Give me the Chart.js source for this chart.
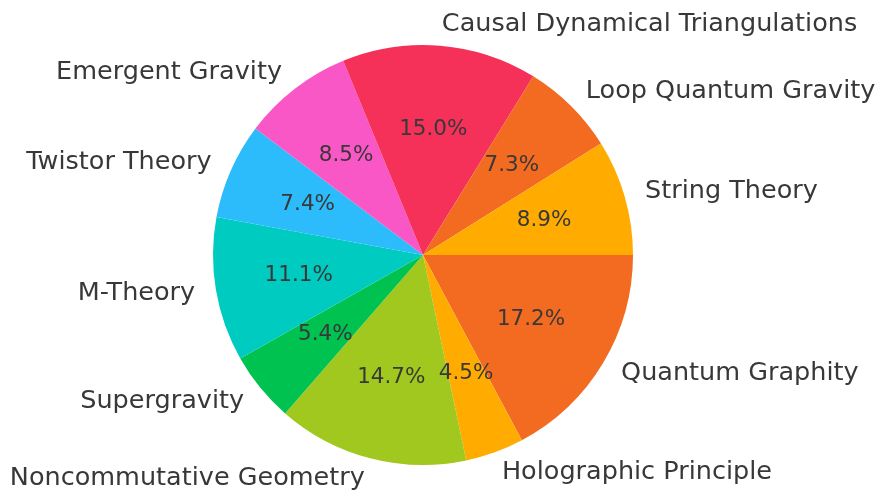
<!DOCTYPE html>
<html>
<head>
<meta charset="utf-8">
<script src="https://cdn.jsdelivr.net/npm/chart.js@4"></script>
<style>
  html, body { margin: 0; padding: 0; background: #fff; }
  #wrap { width: 877px; height: 493px; }
</style>
</head>
<body>
<div id="wrap"><canvas id="myChart" width="877" height="493"></canvas></div>
<script>
// listed counterclockwise from 3 o'clock, like the original
var labels = ["String Theory", "Loop Quantum Gravity", "Causal Dynamical Triangulations",
  "Emergent Gravity", "Twistor Theory", "M-Theory", "Supergravity",
  "Noncommutative Geometry", "Holographic Principle", "Quantum Graphity"];
var shares = [8.9, 7.3, 15.0, 8.5, 7.4, 11.1, 5.4, 14.7, 4.5, 17.2];
var sliceColors = ["#FFAB00", "#F26B21", "#F5315A", "#F957C5", "#2DBCFB",
  "#00CBC0", "#00C251", "#A0C81E", "#FFAB00", "#F26B21"];

// chart.js goes clockwise, so flip the order
var xValues = labels.slice().reverse();
var yValues = shares.slice().reverse();
var barColors = sliceColors.slice().reverse();

var textColor = "#383838";
var fontFamily = "'DejaVu Sans', sans-serif";

var pieText = {
  id: "pieText",
  afterDatasetsDraw: function(chart) {
    var ctx = chart.ctx;
    var meta = chart.getDatasetMeta(0);
    ctx.save();
    ctx.fillStyle = textColor;
    ctx.textBaseline = "middle";
    meta.data.forEach(function(arc, i) {
      var mid = (arc.startAngle + arc.endAngle) / 2;
      var r = arc.outerRadius;
      var cx = Math.cos(mid), cy = Math.sin(mid);
      // percentage inside
      ctx.font = "21.5px " + fontFamily;
      ctx.textAlign = "center";
      ctx.fillText(yValues[i].toFixed(1) + "%", arc.x + cx * r * 0.6, arc.y + cy * r * 0.6);
      // label outside
      ctx.font = "25.5px " + fontFamily;
      ctx.textAlign = cx > 0 ? "left" : "right";
      ctx.fillText(xValues[i], arc.x + cx * r * 1.1, arc.y + cy * r * 1.1);
    });
    ctx.restore();
  }
};

new Chart("myChart", {
  type: "pie",
  data: {
    labels: xValues,
    datasets: [{
      backgroundColor: barColors,
      data: yValues,
      borderWidth: 0,
      radius: 210
    }]
  },
  options: {
    responsive: false,
    animation: false,
    rotation: 90,
    layout: { padding: { left: 0, right: 31, top: 17, bottom: 0 } },
    plugins: {
      legend: { display: false },
      tooltip: { enabled: false }
    }
  },
  plugins: [pieText]
});
</script>
</body>
</html>
